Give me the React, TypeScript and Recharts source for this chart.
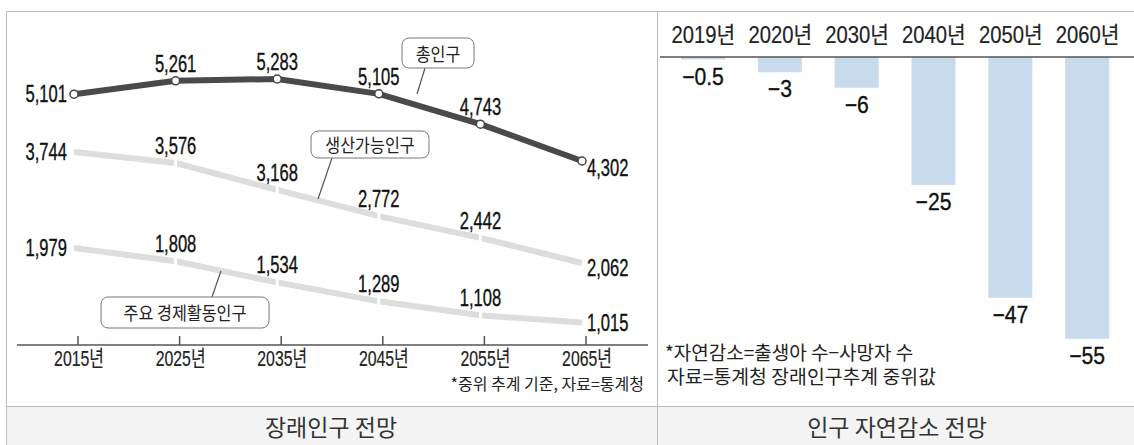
import React from 'react';
import { LineChart, Line, XAxis, YAxis, LabelList, BarChart, Bar } from 'recharts';

// 장래인구 전망 (만 명)
const projYears = ['2015년', '2025년', '2035년', '2045년', '2055년', '2065년'];
const totalPop = [5101, 5261, 5283, 5105, 4743, 4302];
const workingAgePop = [3744, 3576, 3168, 2772, 2442, 2062];
const corePop = [1979, 1808, 1534, 1289, 1108, 1015];

// 인구 자연감소 전망 (만 명)
const decYears = ['2019년', '2020년', '2030년', '2040년', '2050년', '2060년'];
const naturalDecrease = [-0.5, -3, -6, -25, -47, -55];

const SANS = "'Liberation Sans', 'Noto Sans CJK KR', sans-serif";
const KR = "'Noto Sans CJK KR', sans-serif";
const LINE_GREY = '#4a4a4a';
const LIGHT = '#dddddd';
const FRAME = '#bdbdbd';

const lineData = projYears.map((year, i) => ({
  year,
  total: totalPop[i],
  working: workingAgePop[i],
  core: corePop[i],
}));

const barData = decYears.map((year, i) => ({ year, value: naturalDecrease[i] }));

const fmt = (v: number) => v.toLocaleString('en-US');

// newspaper style condensed text: squeeze horizontally around the anchor point
function Narrow({ x, y, sx, size, anchor = 'middle', family = SANS, bold = 0, fill = '#111', children }: any) {
  return (
    <text
      transform={`translate(${x},${y}) scale(${sx},1)`}
      x={0}
      y={0}
      textAnchor={anchor}
      dominantBaseline="central"
      fontFamily={family}
      fontSize={size}
      fill={fill}
      stroke={bold ? fill : 'none'}
      strokeWidth={bold}
    >
      {children}
    </text>
  );
}

// first label sits left of the point, last one right, the rest above
const makeLineLabel = (values: number[], lastDy: number) => (props: any) => {
  const { x, y, value, index } = props;
  const i = typeof index === 'number' ? index : values.indexOf(Number(value));
  let tx = x;
  let ty = y - 17;
  let anchor = 'middle';
  if (i === 0) {
    tx = x - 7;
    ty = y;
    anchor = 'end';
  } else if (i === values.length - 1) {
    tx = x + 5;
    ty = y + lastDy;
    anchor = 'start';
  }
  return (
    <Narrow x={tx} y={ty} sx={0.72} size={23} anchor={anchor} bold={0.35}>
      {fmt(Number(value))}
    </Narrow>
  );
};

const TotalDot = (props: any) => (
  <circle key={props.index} cx={props.cx} cy={props.cy} r={4} fill="#fff" stroke="#444" strokeWidth={1.5} />
);

const GapDot = (props: any) => {
  const { cx, cy, index } = props;
  if (index === 0 || index === projYears.length - 1) return <g key={index} />;
  return <rect key={index} x={cx - 1.5} y={cy - 7} width={3} height={14} fill="#fff" />;
};

const BottomTick = (props: any) => {
  const { x, y, payload } = props;
  return (
    <g>
      <line x1={x + 4} x2={x + 4} y1={y - 9} y2={y} stroke="#555" strokeWidth={1.5} />
      <Narrow x={x + 5} y={y + 14} sx={0.72} size={22} fill="#222" bold={0.2}>
        {payload.value}
      </Narrow>
    </g>
  );
};

const TopTick = (props: any) => {
  const { x, y, payload } = props;
  return (
    <Narrow x={x} y={y - 22} sx={0.88} size={23} fill="#222" bold={0.2}>
      {payload.value}
    </Narrow>
  );
};

const BarValueLabel = (props: any) => {
  const { x, y, width, height, value } = props;
  const bottom = Math.max(y, y + height);
  return (
    <Narrow x={x + width / 2} y={bottom + 17} sx={0.88} size={24} bold={0.35}>
      {'\u2212' + Math.abs(Number(value))}
    </Narrow>
  );
};

function Callout({ x, y, w, h, text, from, to }: any) {
  return (
    <g>
      <line x1={from[0]} y1={from[1]} x2={to[0]} y2={to[1]} stroke="#555" strokeWidth={1.2} />
      <rect x={x} y={y} width={w} height={h} rx={7} fill="#fff" stroke="#777" strokeWidth={1} />
      <Narrow x={x + w / 2} y={y + h / 2} sx={0.9} size={18} family={KR} fill="#222">
        {text}
      </Narrow>
    </g>
  );
}

export default function App() {
  return (
    <div
      style={{
        position: 'absolute',
        left: 0,
        top: 0,
        width: 1134,
        height: 445,
        background: '#fff',
        overflow: 'hidden',
      }}
    >
      {/* caption strip + frame */}
      <div style={{ position: 'absolute', left: 6, top: 406, width: 1128, height: 39, background: '#f4f4f4' }} />
      <div style={{ position: 'absolute', left: 6, top: 11, width: 1128, height: 1, background: FRAME }} />
      <div style={{ position: 'absolute', left: 6, top: 406, width: 1128, height: 1, background: FRAME }} />
      <div style={{ position: 'absolute', left: 6, top: 11, width: 1, height: 434, background: FRAME }} />
      <div style={{ position: 'absolute', left: 657, top: 11, width: 1, height: 434, background: FRAME }} />

      <div style={{ position: 'absolute', left: 0, top: 0 }}>
        <LineChart width={657} height={406} data={lineData} margin={{ top: 30, right: 9, left: 17, bottom: 31 }}>
          <XAxis
            dataKey="year"
            height={30}
            interval={0}
            padding={{ left: 57, right: 66 }}
            axisLine={{ stroke: '#555', strokeWidth: 1.5 }}
            tickLine={false}
            tickSize={0}
            tickMargin={0}
            tick={<BottomTick />}
          />
          <YAxis yAxisId="total" hide domain={[2101, 5869]} />
          <YAxis yAxisId="working" hide domain={[819, 5592]} />
          <YAxis yAxisId="core" hide domain={[724, 4800]} />
          <Line
            yAxisId="core"
            dataKey="core"
            type="linear"
            stroke={LIGHT}
            strokeWidth={6}
            dot={GapDot}
            activeDot={false}
            isAnimationActive={false}
          >
            <LabelList dataKey="core" content={makeLineLabel(corePop, 0)} />
          </Line>
          <Line
            yAxisId="working"
            dataKey="working"
            type="linear"
            stroke={LIGHT}
            strokeWidth={6}
            dot={GapDot}
            activeDot={false}
            isAnimationActive={false}
          >
            <LabelList dataKey="working" content={makeLineLabel(workingAgePop, 5)} />
          </Line>
          <Line
            yAxisId="total"
            dataKey="total"
            type="linear"
            stroke={LINE_GREY}
            strokeWidth={6}
            dot={TotalDot}
            activeDot={false}
            isAnimationActive={false}
          >
            <LabelList dataKey="total" content={makeLineLabel(totalPop, 7)} />
          </Line>
        </LineChart>
      </div>

      <div style={{ position: 'absolute', left: 657, top: 0 }}>
        <BarChart width={477} height={406} data={barData} margin={{ top: 27, right: 0, left: 3, bottom: 16 }}>
          <XAxis
            dataKey="year"
            orientation="top"
            height={30}
            interval={0}
            padding={{ left: 5, right: 8 }}
            axisLine={{ stroke: '#555', strokeWidth: 1.5 }}
            tickLine={false}
            tickSize={0}
            tickMargin={0}
            tick={<TopTick />}
          />
          <YAxis hide domain={[-65, 0]} />
          <Bar dataKey="value" fill="#c8dbec" barSize={44} isAnimationActive={false}>
            <LabelList dataKey="value" content={BarValueLabel} />
          </Bar>
        </BarChart>
      </div>

      <svg width={1134} height={445} style={{ position: 'absolute', left: 0, top: 0, pointerEvents: 'none' }}>
        <Callout x={402} y={38} w={72} h={30} text="총인구" from={[425, 68]} to={[417, 94]} />
        <Callout x={311} y={131} w={118} h={27} text="생산가능인구" from={[332, 158]} to={[318, 199]} />
        <Callout x={101} y={297} w={168} h={31} text="주요 경제활동인구" from={[212, 297]} to={[221, 271]} />

        <Narrow x={644} y={383} sx={1} size={16} anchor="end" family={KR} fill="#222">
          *중위 추계 기준, 자료=통계청
        </Narrow>
        <Narrow x={665} y={351} sx={1} size={19} anchor="start" family={KR} fill="#222">
          *자연감소=출생아 수−사망자 수
        </Narrow>
        <Narrow x={667} y={376} sx={1.02} size={19} anchor="start" family={KR} fill="#222">
          자료=통계청 장래인구추계 중위값
        </Narrow>

        <text x={331} y={426} textAnchor="middle" dominantBaseline="central" fontFamily={KR} fontSize={23} fill="#333">
          장래인구 전망
        </text>
        <text x={897} y={426} textAnchor="middle" dominantBaseline="central" fontFamily={KR} fontSize={23} fill="#333">
          인구 자연감소 전망
        </text>
      </svg>
    </div>
  );
}
